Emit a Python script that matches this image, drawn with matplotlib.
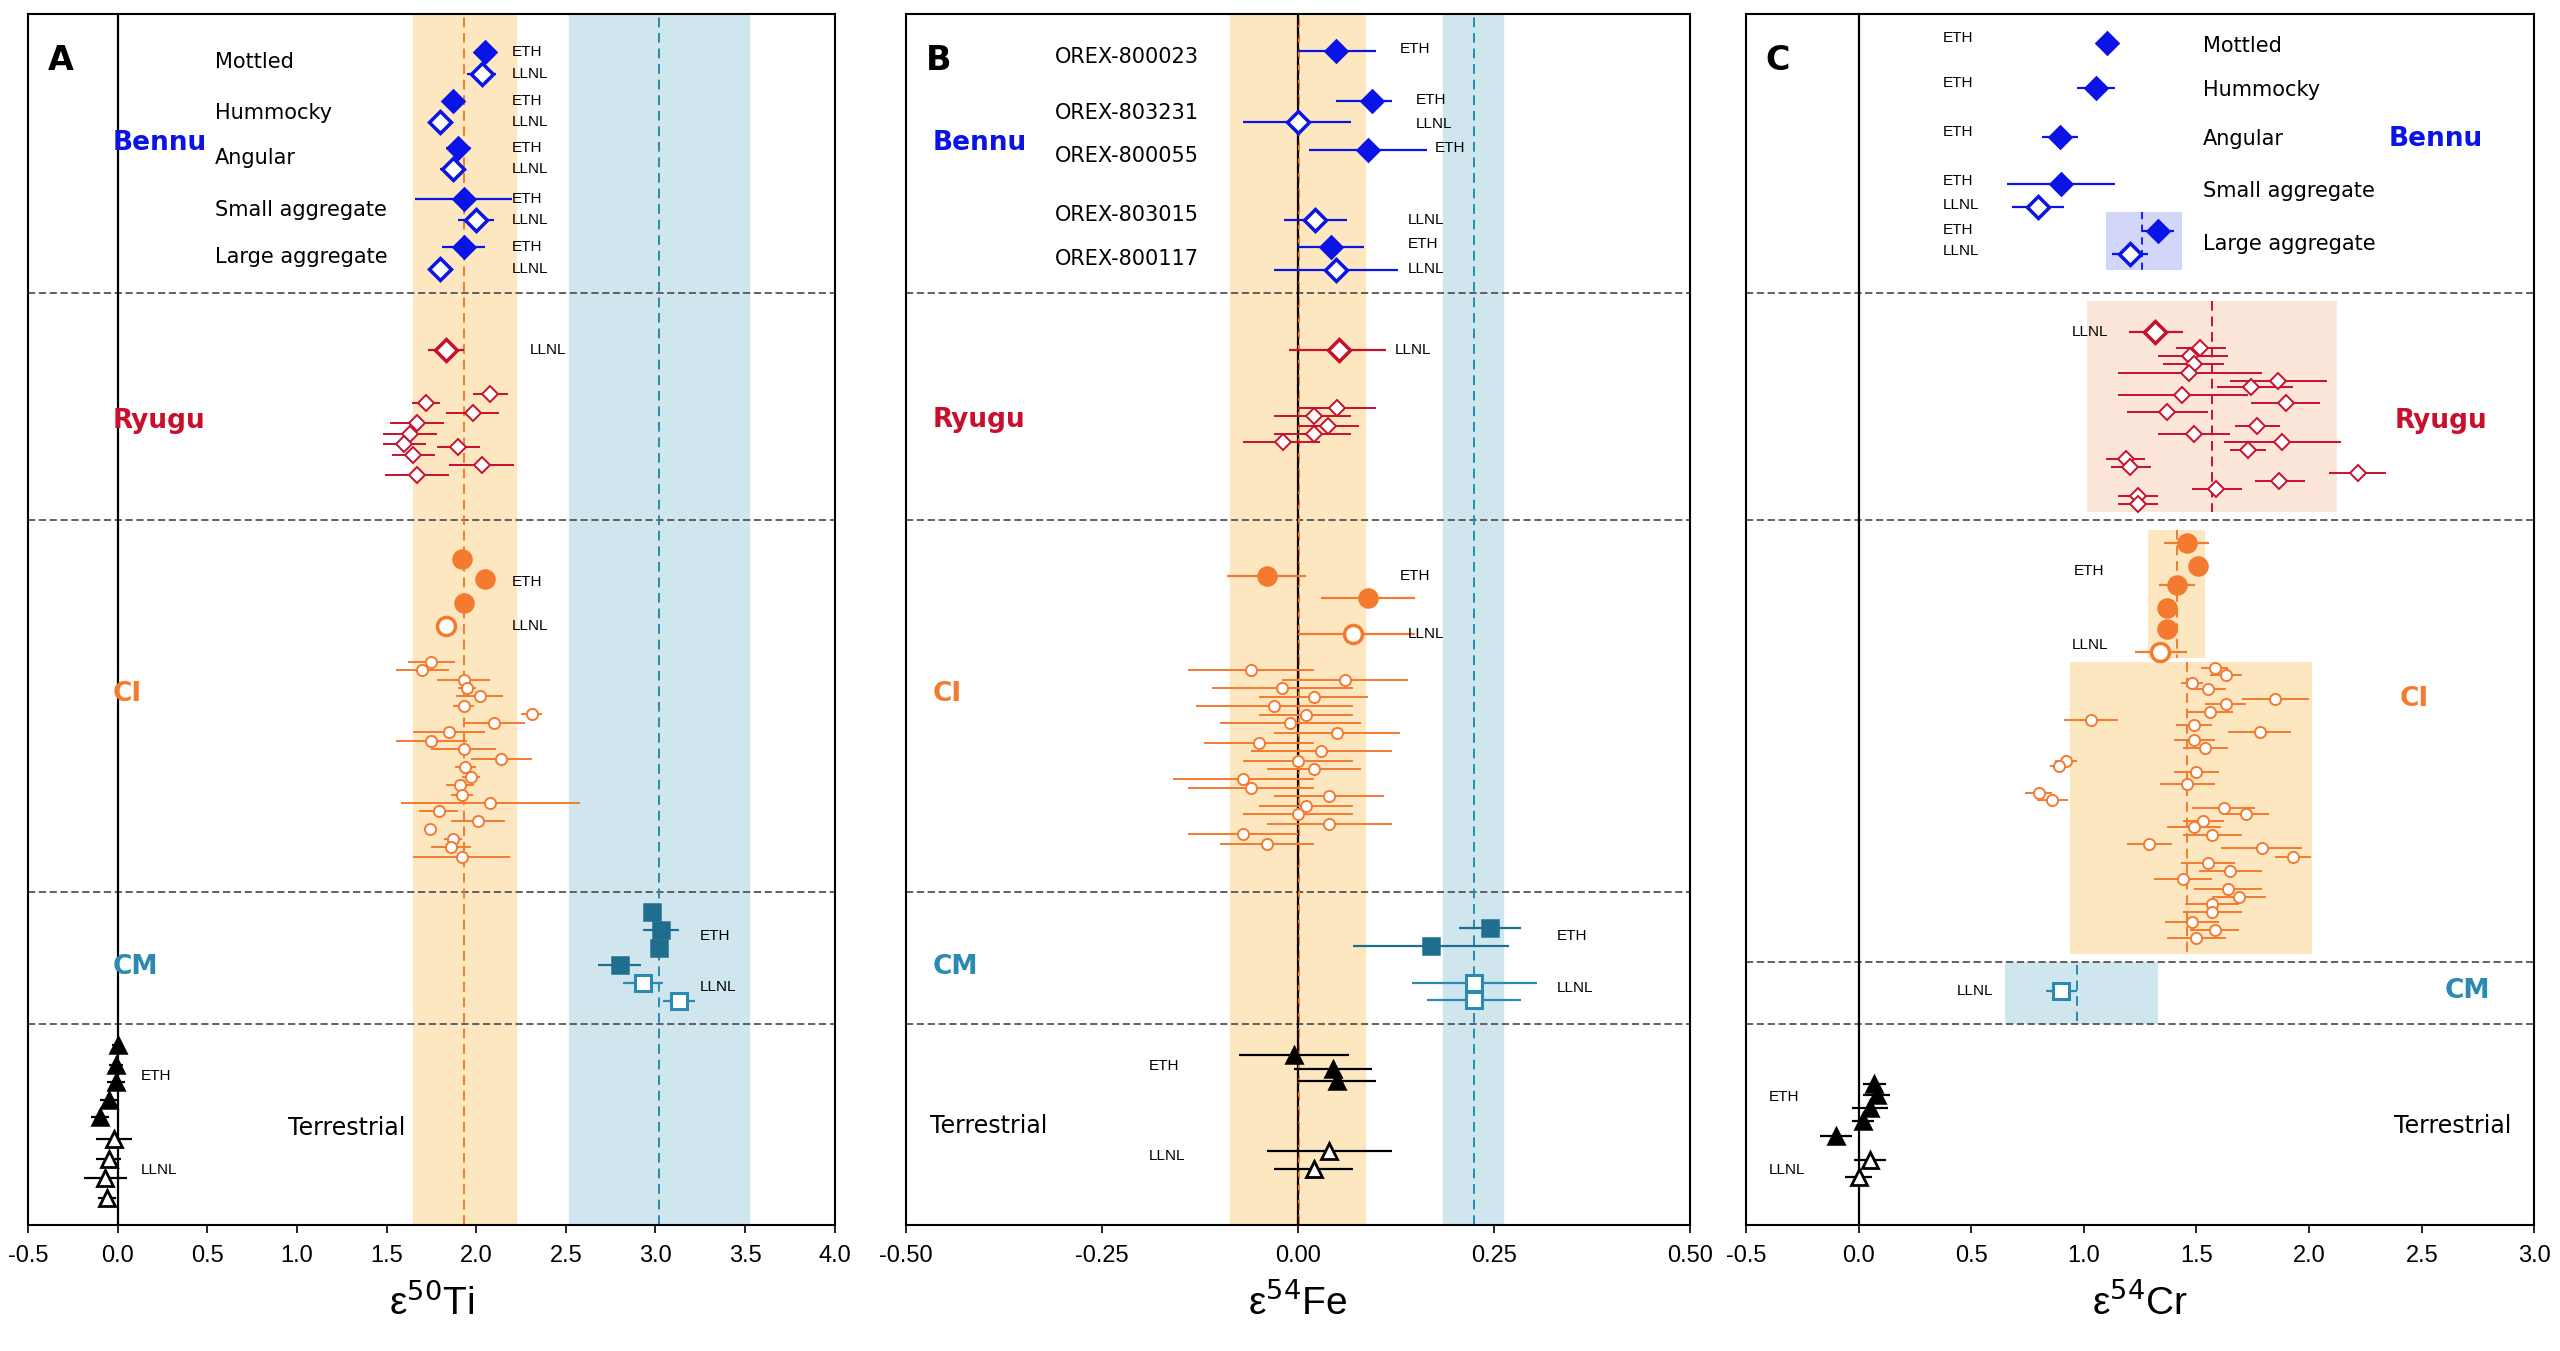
import matplotlib
matplotlib.use("Agg")
import matplotlib.pyplot as plt
from matplotlib import font_manager

plt.rcParams["font.family"] = ["DejaVu Sans"]
NARROW = ["Liberation Sans Narrow", "Liberation Sans", "DejaVu Sans"]
_dostepne = {f.name for f in font_manager.fontManager.ttflist}
NARROW = [f for f in NARROW if f in _dostepne]

BLUE = "#0a14e6"
RED = "#c8102e"
ORANGE = "#f47a30"
TEAL = "#2a8ab0"
BAND_OR = "#fde7c0"
BAND_BL = "#cfe6ef"

# ---------------- dane: panel A (e50Ti) ----------------
ti_bennu_eth_x = [2.05, 1.87, 1.90, 1.93, 1.93]
ti_bennu_eth_y = [30, 60, 89, 120, 150]
ti_bennu_eth_e = [0.03, 0.03, 0.07, 0.27, 0.12]
ti_bennu_llnl_x = [2.03, 1.80, 1.87, 2.00, 1.80]
ti_bennu_llnl_y = [43, 73, 102, 133, 163]
ti_bennu_llnl_e = [0.08, 0.03, 0.07, 0.10, 0.03]
ti_bennu_names = ["Mottled", "Hummocky", "Angular", "Small aggregate", "Large aggregate"]
ti_bennu_name_y = [36, 67, 95, 127, 156]

ti_ryugu_llnl = (1.83, 213, 0.10)
ti_ryugu_x = [2.08, 1.72, 1.98, 1.67, 1.63, 1.60, 1.90, 1.65, 2.03, 1.67]
ti_ryugu_y = [240, 246, 252, 258, 265, 271, 273, 278, 284, 290]
ti_ryugu_e = [0.10, 0.08, 0.15, 0.15, 0.15, 0.12, 0.12, 0.12, 0.18, 0.18]

ti_ci_eth_x = [1.92, 2.05, 1.93]
ti_ci_eth_y = [342, 354, 369]
ti_ci_llnl = (1.83, 383, 0.05)
ti_ci_x = [1.75, 1.70, 1.93, 1.95, 2.02, 1.93, 2.31, 2.10, 1.85, 1.75, 1.93, 2.14,
           1.94, 1.97, 1.91, 1.92, 2.08, 1.79, 2.01, 1.74, 1.87, 1.86, 1.92]
ti_ci_y = [405, 410, 416, 421, 426, 432, 437, 443, 448, 454, 459, 465,
           470, 476, 481, 487, 492, 497, 503, 508, 514, 519, 525]
ti_ci_e = [0.13, 0.15, 0.15, 0.05, 0.13, 0.06, 0.06, 0.17, 0.20, 0.20, 0.18, 0.17,
           0.06, 0.05, 0.08, 0.06, 0.50, 0.11, 0.15, 0.02, 0.05, 0.11, 0.27]

ti_cm_eth_x = [2.98, 3.03, 3.02, 2.80]
ti_cm_eth_y = [559, 570, 581, 592]
ti_cm_eth_e = [0.03, 0.10, 0.04, 0.12]
ti_cm_llnl_x = [2.93, 3.13]
ti_cm_llnl_y = [603, 614]
ti_cm_llnl_e = [0.11, 0.09]

ti_terr_eth_x = [0.0, -0.01, -0.01, -0.05, -0.10]
ti_terr_eth_y = [641, 653, 664, 675, 685]
ti_terr_eth_e = [0.03, 0.04, 0.05, 0.05, 0.05]
ti_terr_llnl_x = [-0.02, -0.05, -0.07, -0.06]
ti_terr_llnl_y = [699, 711, 723, 735]
ti_terr_llnl_e = [0.10, 0.07, 0.12, 0.05]

# ---------------- dane: panel B (e54Fe) ----------------
fe_bennu_eth_x = [0.048, 0.095, 0.089, 0.042]
fe_bennu_eth_y = [29, 60, 90, 150]
fe_bennu_eth_lo = [0.0, 0.048, 0.014, 0.0]
fe_bennu_eth_hi = [0.10, 0.12, 0.165, 0.084]
fe_bennu_llnl_x = [0.0, 0.022, 0.048]
fe_bennu_llnl_y = [73, 133, 164]
fe_bennu_llnl_lo = [-0.07, -0.018, -0.03]
fe_bennu_llnl_hi = [0.068, 0.063, 0.128]
fe_bennu_names = ["OREX-800023", "OREX-803231", "OREX-800055", "OREX-803015", "OREX-800117"]
fe_bennu_name_y = [33, 67, 94, 130, 157]

fe_ryugu_llnl = (0.052, 213, -0.011, 0.113)
fe_ryugu_x = [0.05, 0.02, 0.039, 0.02, -0.019]
fe_ryugu_y = [249, 254, 260, 265, 270]
fe_ryugu_lo = [0.0, -0.03, 0.0, -0.03, -0.07]
fe_ryugu_hi = [0.10, 0.068, 0.078, 0.068, 0.028]

fe_ci_eth_x = [-0.04, 0.09]
fe_ci_eth_y = [352, 366]
fe_ci_eth_e = [0.05, 0.06]
fe_ci_llnl = (0.07, 388, 0.0, 0.15)
fe_ci_x = [-0.06, 0.06, -0.02, 0.02, -0.03, 0.01, -0.01, 0.05, -0.05, 0.03,
           0.0, 0.02, -0.07, -0.06, 0.04, 0.01, 0.0, 0.04, -0.07, -0.04]
fe_ci_y = [410, 416, 421, 427, 432, 438, 443, 449, 455, 460,
           466, 471, 477, 483, 488, 494, 499, 505, 511, 517]
fe_ci_e = [0.08, 0.08, 0.09, 0.07, 0.10, 0.06, 0.09, 0.08, 0.07, 0.09,
           0.07, 0.06, 0.09, 0.08, 0.07, 0.06, 0.07, 0.08, 0.07, 0.06]

fe_cm_eth_x = [0.245, 0.17]
fe_cm_eth_y = [569, 580]
fe_cm_eth_e = [0.04, 0.10]
fe_cm_llnl_x = [0.225, 0.225]
fe_cm_llnl_y = [603, 613]
fe_cm_llnl_e = [0.08, 0.06]

fe_terr_eth_x = [-0.005, 0.045, 0.05]
fe_terr_eth_y = [647, 656, 663]
fe_terr_eth_e = [0.07, 0.05, 0.05]
fe_terr_llnl_x = [0.04, 0.02]
fe_terr_llnl_y = [706, 717]
fe_terr_llnl_e = [0.08, 0.05]

# ---------------- dane: panel C (e54Cr) ----------------
cr_bennu_eth_x = [1.105, 1.053, 0.895, 0.898, 1.328]
cr_bennu_eth_y = [24, 52, 82, 111, 140]
cr_bennu_eth_e = [0.0, 0.085, 0.08, 0.24, 0.07]
cr_bennu_llnl_x = [0.798, 1.205]
cr_bennu_llnl_y = [125, 154]
cr_bennu_llnl_e = [0.115, 0.08]
cr_bennu_lab_txt = ["ETH", "ETH", "ETH", "ETH", "LLNL", "ETH", "LLNL"]
cr_bennu_lab_y = [21, 49, 79, 109, 124, 139, 152]
cr_bennu_names = ["Mottled", "Hummocky", "Angular", "Small aggregate", "Large aggregate"]
cr_bennu_name_y = [26, 53, 83, 115, 148]

cr_ryugu_llnl = (1.314, 202, 1.20, 1.44)
cr_ryugu_x = [1.514, 1.472, 1.488, 1.465, 1.86, 1.74, 1.437, 1.898, 1.367, 1.767,
              1.488, 1.879, 1.728, 1.188, 1.205, 2.216, 1.867, 1.588, 1.24, 1.24]
cr_ryugu_y = [212, 217, 222, 227, 232, 236, 241, 246, 251, 260,
              265, 270, 275, 280, 285, 289, 294, 299, 303, 308]
cr_ryugu_lo = [1.41, 1.33, 1.35, 1.15, 1.65, 1.59, 1.15, 1.74, 1.19, 1.67,
               1.33, 1.62, 1.65, 1.10, 1.12, 2.09, 1.76, 1.48, 1.15, 1.15]
cr_ryugu_hi = [1.63, 1.64, 1.62, 1.79, 2.08, 1.93, 1.73, 2.05, 1.55, 1.87,
               1.65, 2.14, 1.81, 1.27, 1.30, 2.34, 1.98, 1.70, 1.33, 1.33]

cr_ci_eth_x = [1.456, 1.507, 1.414, 1.367, 1.367]
cr_ci_eth_y = [332, 346, 358, 372, 385]
cr_ci_eth_e = [0.10, 0.0, 0.08, 0.0, 0.0]
cr_ci_llnl = (1.34, 399, 1.228, 1.456)
cr_ci_x = [1.58, 1.63, 1.48, 1.55, 1.85, 1.63, 1.56, 1.03, 1.49, 1.78, 1.49, 1.54,
           0.92, 0.89, 1.50, 1.46, 0.80, 0.86, 1.62, 1.72, 1.53, 1.49, 1.57, 1.29,
           1.79, 1.93, 1.55, 1.65, 1.44, 1.64, 1.69, 1.57, 1.57, 1.48, 1.58, 1.50]
cr_ci_y = [409, 413, 418, 422, 428, 431, 436, 441, 444, 448, 453, 458,
           466, 469, 473, 480, 486, 490, 495, 499, 503, 507, 512, 517,
           520, 525, 529, 534, 539, 545, 550, 554, 559, 565, 570, 575]
cr_ci_e = [0.06, 0.07, 0.05, 0.08, 0.15, 0.09, 0.10, 0.12, 0.08, 0.14, 0.09, 0.10,
           0.05, 0.04, 0.10, 0.12, 0.06, 0.07, 0.14, 0.10, 0.09, 0.12, 0.13, 0.10,
           0.18, 0.08, 0.12, 0.14, 0.13, 0.15, 0.12, 0.12, 0.13, 0.12, 0.11, 0.13]

cr_cm_llnl = (0.90, 608, 0.07)

cr_terr_eth_x = [0.07, 0.08, 0.05, 0.02, -0.10]
cr_terr_eth_y = [665, 672, 680, 688, 697]
cr_terr_eth_e = [0.05, 0.06, 0.08, 0.05, 0.07]
cr_terr_llnl_x = [0.05, 0.0]
cr_terr_llnl_y = [712, 722]
cr_terr_llnl_e = [0.07, 0.06]


def punkty(os, x, y, xerr, marker, kolor, ms, pelny, lw=1.6, mew=1.8):
    os.errorbar(x, y, xerr=xerr, fmt=marker, color=kolor, ms=ms, mec=kolor,
                mfc=kolor if pelny else "white", mew=mew, elinewidth=lw,
                capsize=0, zorder=4)


def przedzial(x, lo, hi):
    return [[x_ - l for x_, l in zip(x, lo)], [h - x_ for x_, h in zip(x, hi)]]


def podstawa(os, xlim, ticks, ticklab, separatory, litera, xlabel):
    os.set_xlim(*xlim)
    os.set_ylim(752, 6)
    os.set_yticks([])
    os.set_xticks(ticks)
    os.set_xticklabels(ticklab, fontsize=17, family=NARROW)
    os.tick_params(axis="x", length=6, width=1.2, pad=8)
    for s in os.spines.values():
        s.set_linewidth(1.5)
    os.axvline(0, color="black", lw=1.6, zorder=2)
    for s in separatory:
        os.axhline(s, color="#555555", lw=1.3, ls=(0, (4, 2)), zorder=1)
    os.text(0.025, 0.975, litera, transform=os.transAxes, fontsize=24,
            fontweight="bold", va="top")
    os.set_xlabel(xlabel, fontsize=28, labelpad=12, family=NARROW)


def etykieta(os, x, y, txt, ha="left"):
    os.text(x, y, txt, fontsize=11, ha=ha, va="center", zorder=5, family=NARROW)


fig = plt.figure(figsize=(25.6, 13.51), dpi=100)
osA = fig.add_axes([0.011, 0.093, 0.315, 0.897])
osB = fig.add_axes([0.354, 0.093, 0.306, 0.897])
osC = fig.add_axes([0.682, 0.093, 0.308, 0.897])

# ---------------- panel A ----------------
os = osA
podstawa(os, (-0.5, 4.0), [-0.5, 0, 0.5, 1, 1.5, 2, 2.5, 3, 3.5, 4],
         ["-0.5", "0.0", "0.5", "1.0", "1.5", "2.0", "2.5", "3.0", "3.5", "4.0"],
         [178, 318, 547, 628], "A", "ε$^{50}$Ti")
os.axvspan(1.65, 2.22, color=BAND_OR, zorder=0)
os.axvspan(2.52, 3.52, color=BAND_BL, zorder=0)
os.axvline(1.93, color=ORANGE, lw=1.4, ls=(0, (5, 3)), zorder=1)
os.axvline(3.02, color=TEAL, lw=1.4, ls=(0, (5, 3)), zorder=1)
punkty(os, ti_bennu_eth_x, ti_bennu_eth_y, ti_bennu_eth_e, "D", BLUE, 11, True)
punkty(os, ti_bennu_llnl_x, ti_bennu_llnl_y, ti_bennu_llnl_e, "D", BLUE, 11, False, mew=2.5)
for n, y in zip(ti_bennu_names, ti_bennu_name_y):
    os.text(0.54, y, n, fontsize=15, va="center")
for y in ti_bennu_eth_y:
    etykieta(os, 2.2, y, "ETH")
for y in ti_bennu_llnl_y:
    etykieta(os, 2.2, y, "LLNL")
x, y, e = ti_ryugu_llnl
punkty(os, [x], [y], [e], "D", RED, 11, False, mew=2.5)
etykieta(os, 2.3, y, "LLNL")
punkty(os, ti_ryugu_x, ti_ryugu_y, ti_ryugu_e, "D", RED, 8, False, lw=1.4, mew=1.4)
punkty(os, ti_ci_eth_x, ti_ci_eth_y, 0, "o", ORANGE, 13, True)
x, y, e = ti_ci_llnl
punkty(os, [x], [y], [e], "o", ORANGE, 13, False, mew=2.5)
etykieta(os, 2.2, 356, "ETH")
etykieta(os, 2.2, 383, "LLNL")
punkty(os, ti_ci_x, ti_ci_y, ti_ci_e, "o", ORANGE, 8, False, lw=1.4, mew=1.4)
punkty(os, ti_cm_eth_x, ti_cm_eth_y, ti_cm_eth_e, "s", "#1f6e8f", 11, True)
punkty(os, ti_cm_llnl_x, ti_cm_llnl_y, ti_cm_llnl_e, "s", TEAL, 11, False, mew=2.2)
etykieta(os, 3.25, 574, "ETH")
etykieta(os, 3.25, 605, "LLNL")
punkty(os, ti_terr_eth_x, ti_terr_eth_y, ti_terr_eth_e, "^", "black", 12, True)
punkty(os, ti_terr_llnl_x, ti_terr_llnl_y, ti_terr_llnl_e, "^", "black", 12, False, mew=2)
etykieta(os, 0.13, 660, "ETH")
etykieta(os, 0.13, 718, "LLNL")
os.text(-0.03, 86, "Bennu", color=BLUE, fontsize=19, fontweight="bold", va="center")
os.text(-0.03, 257, "Ryugu", color=RED, fontsize=19, fontweight="bold", va="center")
os.text(-0.03, 425, "CI", color=ORANGE, fontsize=19, fontweight="bold", va="center")
os.text(-0.03, 593, "CM", color=TEAL, fontsize=19, fontweight="bold", va="center")
os.text(0.95, 692, "Terrestrial", fontsize=17, va="center")

# ---------------- panel B ----------------
os = osB
podstawa(os, (-0.5, 0.5), [-0.5, -0.25, 0, 0.25, 0.5],
         ["-0.50", "-0.25", "0.00", "0.25", "0.50"],
         [178, 318, 547, 628], "B", "ε$^{54}$Fe")
os.axvspan(-0.087, 0.085, color=BAND_OR, zorder=0)
os.axvspan(0.185, 0.262, color=BAND_BL, zorder=0)
os.axvline(0.002, color=ORANGE, lw=1.4, ls=(0, (5, 3)), zorder=2)
os.axvline(0.0, color="black", lw=1.2, ls=(0, (5, 3)), zorder=3)
os.axvline(0.225, color=TEAL, lw=1.4, ls=(0, (5, 3)), zorder=1)
punkty(os, fe_bennu_eth_x, fe_bennu_eth_y,
       przedzial(fe_bennu_eth_x, fe_bennu_eth_lo, fe_bennu_eth_hi), "D", BLUE, 11, True)
punkty(os, fe_bennu_llnl_x, fe_bennu_llnl_y,
       przedzial(fe_bennu_llnl_x, fe_bennu_llnl_lo, fe_bennu_llnl_hi), "D", BLUE, 11, False, mew=2.5)
for n, y in zip(fe_bennu_names, fe_bennu_name_y):
    os.text(-0.31, y, n, fontsize=15, va="center")
for xx, y, t in zip([0.13, 0.15, 0.15, 0.175, 0.14, 0.14, 0.14],
                    [28, 59, 74, 89, 133, 148, 163],
                    ["ETH", "ETH", "LLNL", "ETH", "LLNL", "ETH", "LLNL"]):
    etykieta(os, xx, y, t)
x, y, lo, hi = fe_ryugu_llnl
punkty(os, [x], [y], [[x - lo], [hi - x]], "D", RED, 11, False, mew=2.5)
etykieta(os, 0.124, y, "LLNL")
punkty(os, fe_ryugu_x, fe_ryugu_y, przedzial(fe_ryugu_x, fe_ryugu_lo, fe_ryugu_hi),
       "D", RED, 8, False, lw=1.4, mew=1.4)
punkty(os, fe_ci_eth_x, fe_ci_eth_y, fe_ci_eth_e, "o", ORANGE, 13, True)
x, y, lo, hi = fe_ci_llnl
punkty(os, [x], [y], [[x - lo], [hi - x]], "o", ORANGE, 13, False, mew=2.5)
etykieta(os, 0.13, 352, "ETH")
etykieta(os, 0.14, 388, "LLNL")
punkty(os, fe_ci_x, fe_ci_y, fe_ci_e, "o", ORANGE, 8, False, lw=1.4, mew=1.4)
punkty(os, fe_cm_eth_x, fe_cm_eth_y, fe_cm_eth_e, "s", "#1f6e8f", 11, True)
punkty(os, fe_cm_llnl_x, fe_cm_llnl_y, fe_cm_llnl_e, "s", TEAL, 11, False, mew=2.2)
etykieta(os, 0.33, 574, "ETH")
etykieta(os, 0.33, 606, "LLNL")
punkty(os, fe_terr_eth_x, fe_terr_eth_y, fe_terr_eth_e, "^", "black", 12, True)
punkty(os, fe_terr_llnl_x, fe_terr_llnl_y, fe_terr_llnl_e, "^", "black", 12, False, mew=2)
etykieta(os, -0.19, 654, "ETH")
etykieta(os, -0.19, 709, "LLNL")
os.text(-0.466, 86, "Bennu", color=BLUE, fontsize=19, fontweight="bold", va="center")
os.text(-0.466, 256, "Ryugu", color=RED, fontsize=19, fontweight="bold", va="center")
os.text(-0.466, 425, "CI", color=ORANGE, fontsize=19, fontweight="bold", va="center")
os.text(-0.466, 593, "CM", color=TEAL, fontsize=19, fontweight="bold", va="center")
os.text(-0.47, 691, "Terrestrial", fontsize=17, va="center")

# ---------------- panel C ----------------
os = osC
podstawa(os, (-0.5, 3.0), [-0.5, 0, 0.5, 1, 1.5, 2, 2.5, 3],
         ["-0.5", "0.0", "0.5", "1.0", "1.5", "2.0", "2.5", "3.0"],
         [178, 318, 590, 628], "C", "ε$^{54}$Cr")
# pola tla grup
os.fill_between([1.10, 1.437], 128, 164, color="#d3d6f8", zorder=0, lw=0)
os.plot([1.258, 1.258], [128, 164], color=BLUE, lw=1.3, ls=(0, (4, 3)), zorder=1)
os.fill_between([1.014, 2.123], 183, 313, color="#fce6da", zorder=0, lw=0)
os.plot([1.57, 1.57], [183, 313], color=RED, lw=1.4, ls=(0, (5, 3)), zorder=1)
os.fill_between([1.286, 1.537], 324, 403, color=BAND_OR, zorder=0, lw=0)
os.plot([1.414, 1.414], [324, 403], color=ORANGE, lw=1.4, ls=(0, (5, 3)), zorder=1)
os.fill_between([0.938, 2.013], 405, 585, color=BAND_OR, zorder=0, lw=0)
os.plot([1.46, 1.46], [405, 585], color=ORANGE, lw=1.4, ls=(0, (5, 3)), zorder=1)
os.fill_between([0.648, 1.33], 590, 628, color=BAND_BL, zorder=0, lw=0)
os.plot([0.97, 0.97], [592, 626], color=TEAL, lw=1.4, ls=(0, (5, 3)), zorder=1)

punkty(os, cr_bennu_eth_x, cr_bennu_eth_y, cr_bennu_eth_e, "D", BLUE, 11, True)
punkty(os, cr_bennu_llnl_x, cr_bennu_llnl_y, cr_bennu_llnl_e, "D", BLUE, 11, False, mew=2.5)
for t, y in zip(cr_bennu_lab_txt, cr_bennu_lab_y):
    etykieta(os, 0.374, y, t)
for n, y in zip(cr_bennu_names, cr_bennu_name_y):
    os.text(1.53, y, n, fontsize=15, va="center")
os.text(2.56, 83, "Bennu", color=BLUE, fontsize=19, fontweight="bold", va="center", ha="center")
x, y, lo, hi = cr_ryugu_llnl
punkty(os, [x], [y], [[x - lo], [hi - x]], "D", RED, 11, False, mew=2.5)
etykieta(os, 1.11, y, "LLNL", ha="right")
punkty(os, cr_ryugu_x, cr_ryugu_y, przedzial(cr_ryugu_x, cr_ryugu_lo, cr_ryugu_hi),
       "D", RED, 8, False, lw=1.4, mew=1.4)
os.text(2.38, 257, "Ryugu", color=RED, fontsize=19, fontweight="bold", va="center")
punkty(os, cr_ci_eth_x, cr_ci_eth_y, cr_ci_eth_e, "o", ORANGE, 13, True)
x, y, lo, hi = cr_ci_llnl
punkty(os, [x], [y], [[x - lo], [hi - x]], "o", ORANGE, 13, False, mew=2.5)
etykieta(os, 1.09, 349, "ETH", ha="right")
etykieta(os, 1.11, 395, "LLNL", ha="right")
punkty(os, cr_ci_x, cr_ci_y, cr_ci_e, "o", ORANGE, 8, False, lw=1.4, mew=1.4)
os.text(2.4, 428, "CI", color=ORANGE, fontsize=19, fontweight="bold", va="center")
x, y, e = cr_cm_llnl
punkty(os, [x], [y], [e], "s", TEAL, 11, False, mew=2.2)
etykieta(os, 0.6, y, "LLNL", ha="right")
os.text(2.6, 608, "CM", color=TEAL, fontsize=19, fontweight="bold", va="center")
punkty(os, cr_terr_eth_x, cr_terr_eth_y, cr_terr_eth_e, "^", "black", 12, True)
punkty(os, cr_terr_llnl_x, cr_terr_llnl_y, cr_terr_llnl_e, "^", "black", 12, False, mew=2)
etykieta(os, -0.4, 673, "ETH")
etykieta(os, -0.4, 718, "LLNL")
os.text(2.9, 691, "Terrestrial", fontsize=17, va="center", ha="right")

fig.savefig("out.png", dpi=100)
